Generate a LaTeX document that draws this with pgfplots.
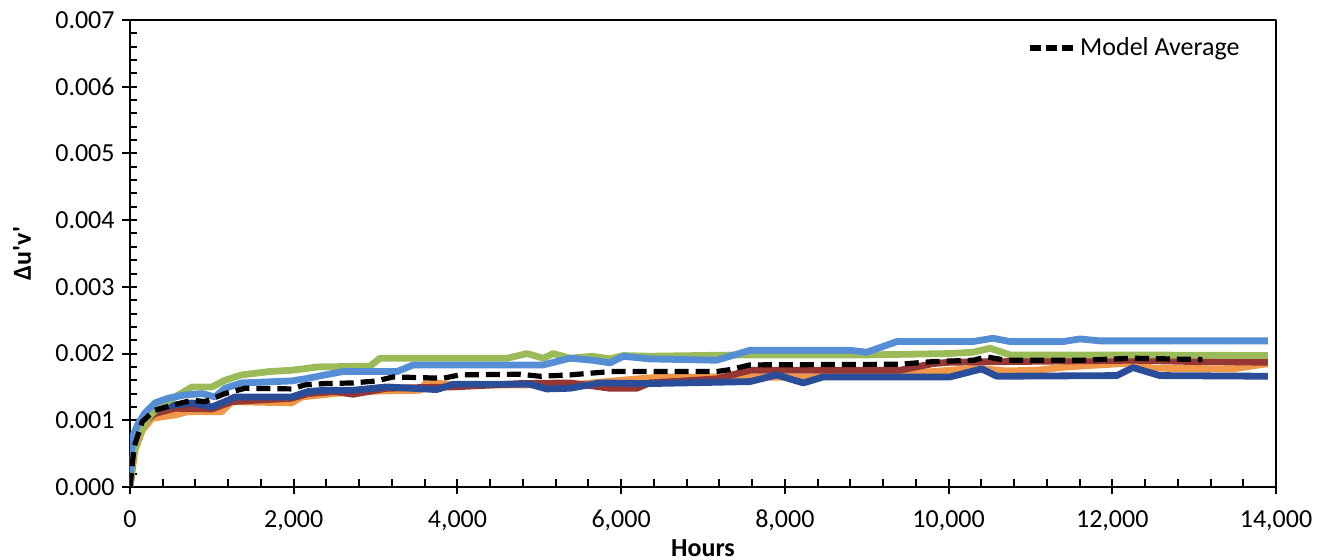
\documentclass[border=0pt]{standalone}
\usepackage{fontspec}
\setmainfont{Carlito}
\usepackage{pgfplots}
\pgfplotsset{compat=1.18}
\definecolor{cgreen}{RGB}{155,187,89}
\definecolor{cblue}{RGB}{85,142,213}
\definecolor{cnavy}{RGB}{41,77,153}
\definecolor{corange}{RGB}{240,152,72}
\definecolor{cred}{RGB}{150,55,52}
\begin{document}
\begin{tikzpicture}
\begin{axis}[
  scale only axis, width=573pt, height=233.5pt,
  at={(0,0)}, anchor=south west,
  xmin=0, xmax=14000, ymin=0, ymax=0.007,
  xtick={0,2000,4000,6000,8000,10000,12000,14000},
  ytick={0,0.001,0.002,0.003,0.004,0.005,0.006,0.007},
  minor x tick num=4, minor y tick num=4,
  tick pos=left,
  tick align=inside,
  major tick length=3.75pt, minor tick length=3.75pt,
  extra x ticks={0,2000,4000,6000,8000,10000,12000,14000},
  extra x tick labels={},
  extra y ticks={0,0.001,0.002,0.003,0.004,0.005,0.006,0.007},
  extra y tick labels={},
  extra tick style={tick align=outside, major tick length=3.75pt},
  axis line style={line width=1pt, black},
  every tick/.style={line width=1pt, black},
  scaled x ticks=false,
  scaled y ticks=false,
  /pgf/number format/assume math mode=true,
  xticklabel style={font=\fontsize{13}{15}\selectfont, inner sep=0pt, anchor=base, yshift=-20.5pt,
    /pgf/number format/fixed, /pgf/number format/1000 sep={,}},
  yticklabel style={font=\fontsize{13}{15}\selectfont, inner sep=0pt, anchor=east, xshift=-7.5pt,
    /pgf/number format/fixed, /pgf/number format/fixed zerofill, /pgf/number format/precision=3},
  xlabel={\textbf{Hours}},
  ylabel={\textbf{Δu\textquotesingle v\textquotesingle}},
  xlabel style={font=\fontsize{13}{15}\selectfont, at={(axis description cs:0.5,0)}, anchor=center, yshift=-30.5pt},
  ylabel style={font=\fontsize{13}{15}\selectfont, at={(axis description cs:-0.0942,0.5)}, anchor=center},
  legend style={draw=none, fill=none, at={(rel axis cs:0.972,0.94)}, anchor=east,
    font=\fontsize{13}{15}\selectfont, inner sep=0pt, row sep=0pt},
  legend cell align=left,
  legend image code/.code={\draw[#1, dash pattern=on 5.5pt off 2.5pt] (0pt,0pt) -- (22pt,0pt);},
  line join=round,
]
% orange
\addplot[corange, line width=3.4pt, forget plot] coordinates {
(0,0) (60,0.00055) (150,0.00085) (269,0.00103) (550,0.00108) (708,0.00113) (1124,0.00113)
(1246,0.00128) (1975,0.00126) (2100,0.00135) (2728,0.00143) (3543,0.00145) (3624,0.00157)
(3950,0.00153) (5375,0.00153) (6000,0.00160) (6500,0.00165) (7574,0.00165) (8225,0.00164)
(9000,0.00168) (9800,0.00173) (10017,0.00175) (10345,0.00178) (10700,0.00174) (11080,0.00175)
(11445,0.00180) (12253,0.00186) (12500,0.00178) (13475,0.00177) (13900,0.00185)};
% red
\addplot[cred, line width=3.4pt, forget plot] coordinates {
(0,0) (50,0.0006) (150,0.00095) (300,0.00110) (550,0.00118) (1000,0.00117) (1246,0.00128)
(1975,0.00133) (2175,0.00140) (2500,0.00143) (2728,0.00139) (3135,0.00148) (3950,0.00150)
(4764,0.00155) (5375,0.00156) (5864,0.00148) (6190,0.00148) (6352,0.00156) (7166,0.00162)
(7574,0.00175) (9406,0.00175) (9810,0.00185) (10017,0.00187) (12253,0.00190) (13000,0.00188) (13900,0.00187)};
% navy
\addplot[cnavy, line width=3.4pt, forget plot] coordinates {
(0,0) (40,0.00055) (122,0.00096) (342,0.00118) (550,0.00123) (757,0.00126) (1002,0.00120)
(1160,0.00128) (1283,0.00135) (1975,0.00135) (2175,0.00143) (2380,0.00145) (2728,0.00145)
(3135,0.00150) (3746,0.00146) (3950,0.00154) (4886,0.00154) (5090,0.00147) (5375,0.00148)
(5740,0.00156) (6352,0.00155) (7574,0.00158) (7900,0.00168) (8225,0.00156) (8470,0.00165)
(10017,0.00165) (10405,0.00177) (10590,0.00166) (12055,0.00167) (12253,0.00179) (12580,0.00167)
(13900,0.00166)};
% green
\addplot[cgreen, line width=3.4pt, forget plot] coordinates {
(0,0) (40,0.00045) (100,0.00075) (200,0.00100) (342,0.00120) (550,0.00135) (757,0.00150)
(1002,0.00150) (1160,0.00160) (1364,0.00168) (1700,0.00173) (1975,0.00175) (2300,0.00180)
(2932,0.00181) (3054,0.00193) (4606,0.00193) (4850,0.00200) (5050,0.00193) (5170,0.00200)
(5375,0.00193) (5650,0.00196) (5864,0.00192) (6026,0.00197) (6352,0.00196) (7500,0.00198)
(9000,0.00198) (10000,0.00200) (10300,0.00202) (10506,0.00208) (10750,0.00198) (12000,0.00198)
(13900,0.00197)};
% light blue
\addplot[cblue, line width=3.4pt, forget plot] coordinates {
(0,0) (30,0.00075) (100,0.00095) (183,0.00111) (305,0.00126) (464,0.00133) (672,0.00138)
(880,0.00140) (1038,0.00135) (1160,0.00148) (1364,0.00156) (1975,0.00159) (2175,0.00163)
(2380,0.00168) (2600,0.00173) (3260,0.00173) (3460,0.00183) (5050,0.00183) (5210,0.00188)
(5375,0.00193) (5650,0.00190) (5864,0.00186) (6026,0.00196) (6352,0.00192) (7166,0.00190)
(7574,0.00205) (8795,0.00205) (9000,0.00202) (9370,0.00218) (10300,0.00218) (10540,0.00223)
(10750,0.00218) (11400,0.00218) (11605,0.00222) (11850,0.00219) (13900,0.00219)};
% model average
\addplot[black, line width=2.6pt, dash pattern=on 7pt off 3.5pt] coordinates {
(0,0) (50,0.0006) (150,0.00098) (300,0.00115) (500,0.00122) (757,0.00130) (916,0.00128)
(1160,0.00140) (1405,0.00148) (1975,0.00147) (2137,0.00153) (2380,0.00155) (2728,0.00156)
(3013,0.00159) (3216,0.00165) (3824,0.00163) (4030,0.00168) (4764,0.00169) (5009,0.00166)
(5375,0.00168) (5864,0.00173) (7166,0.00173) (7330,0.00176) (7574,0.00183) (9406,0.00184)
(9810,0.00188) (10300,0.00190) (10466,0.00195) (10700,0.00190) (11640,0.00190) (12253,0.00193)
(13100,0.00191)};
\addlegendentry{Model Average}
\end{axis}
\pgfresetboundingbox
\path[use as bounding box] (-65pt,-36.5pt) rectangle (593.5pt,243.5pt);
\end{tikzpicture}
\end{document}
